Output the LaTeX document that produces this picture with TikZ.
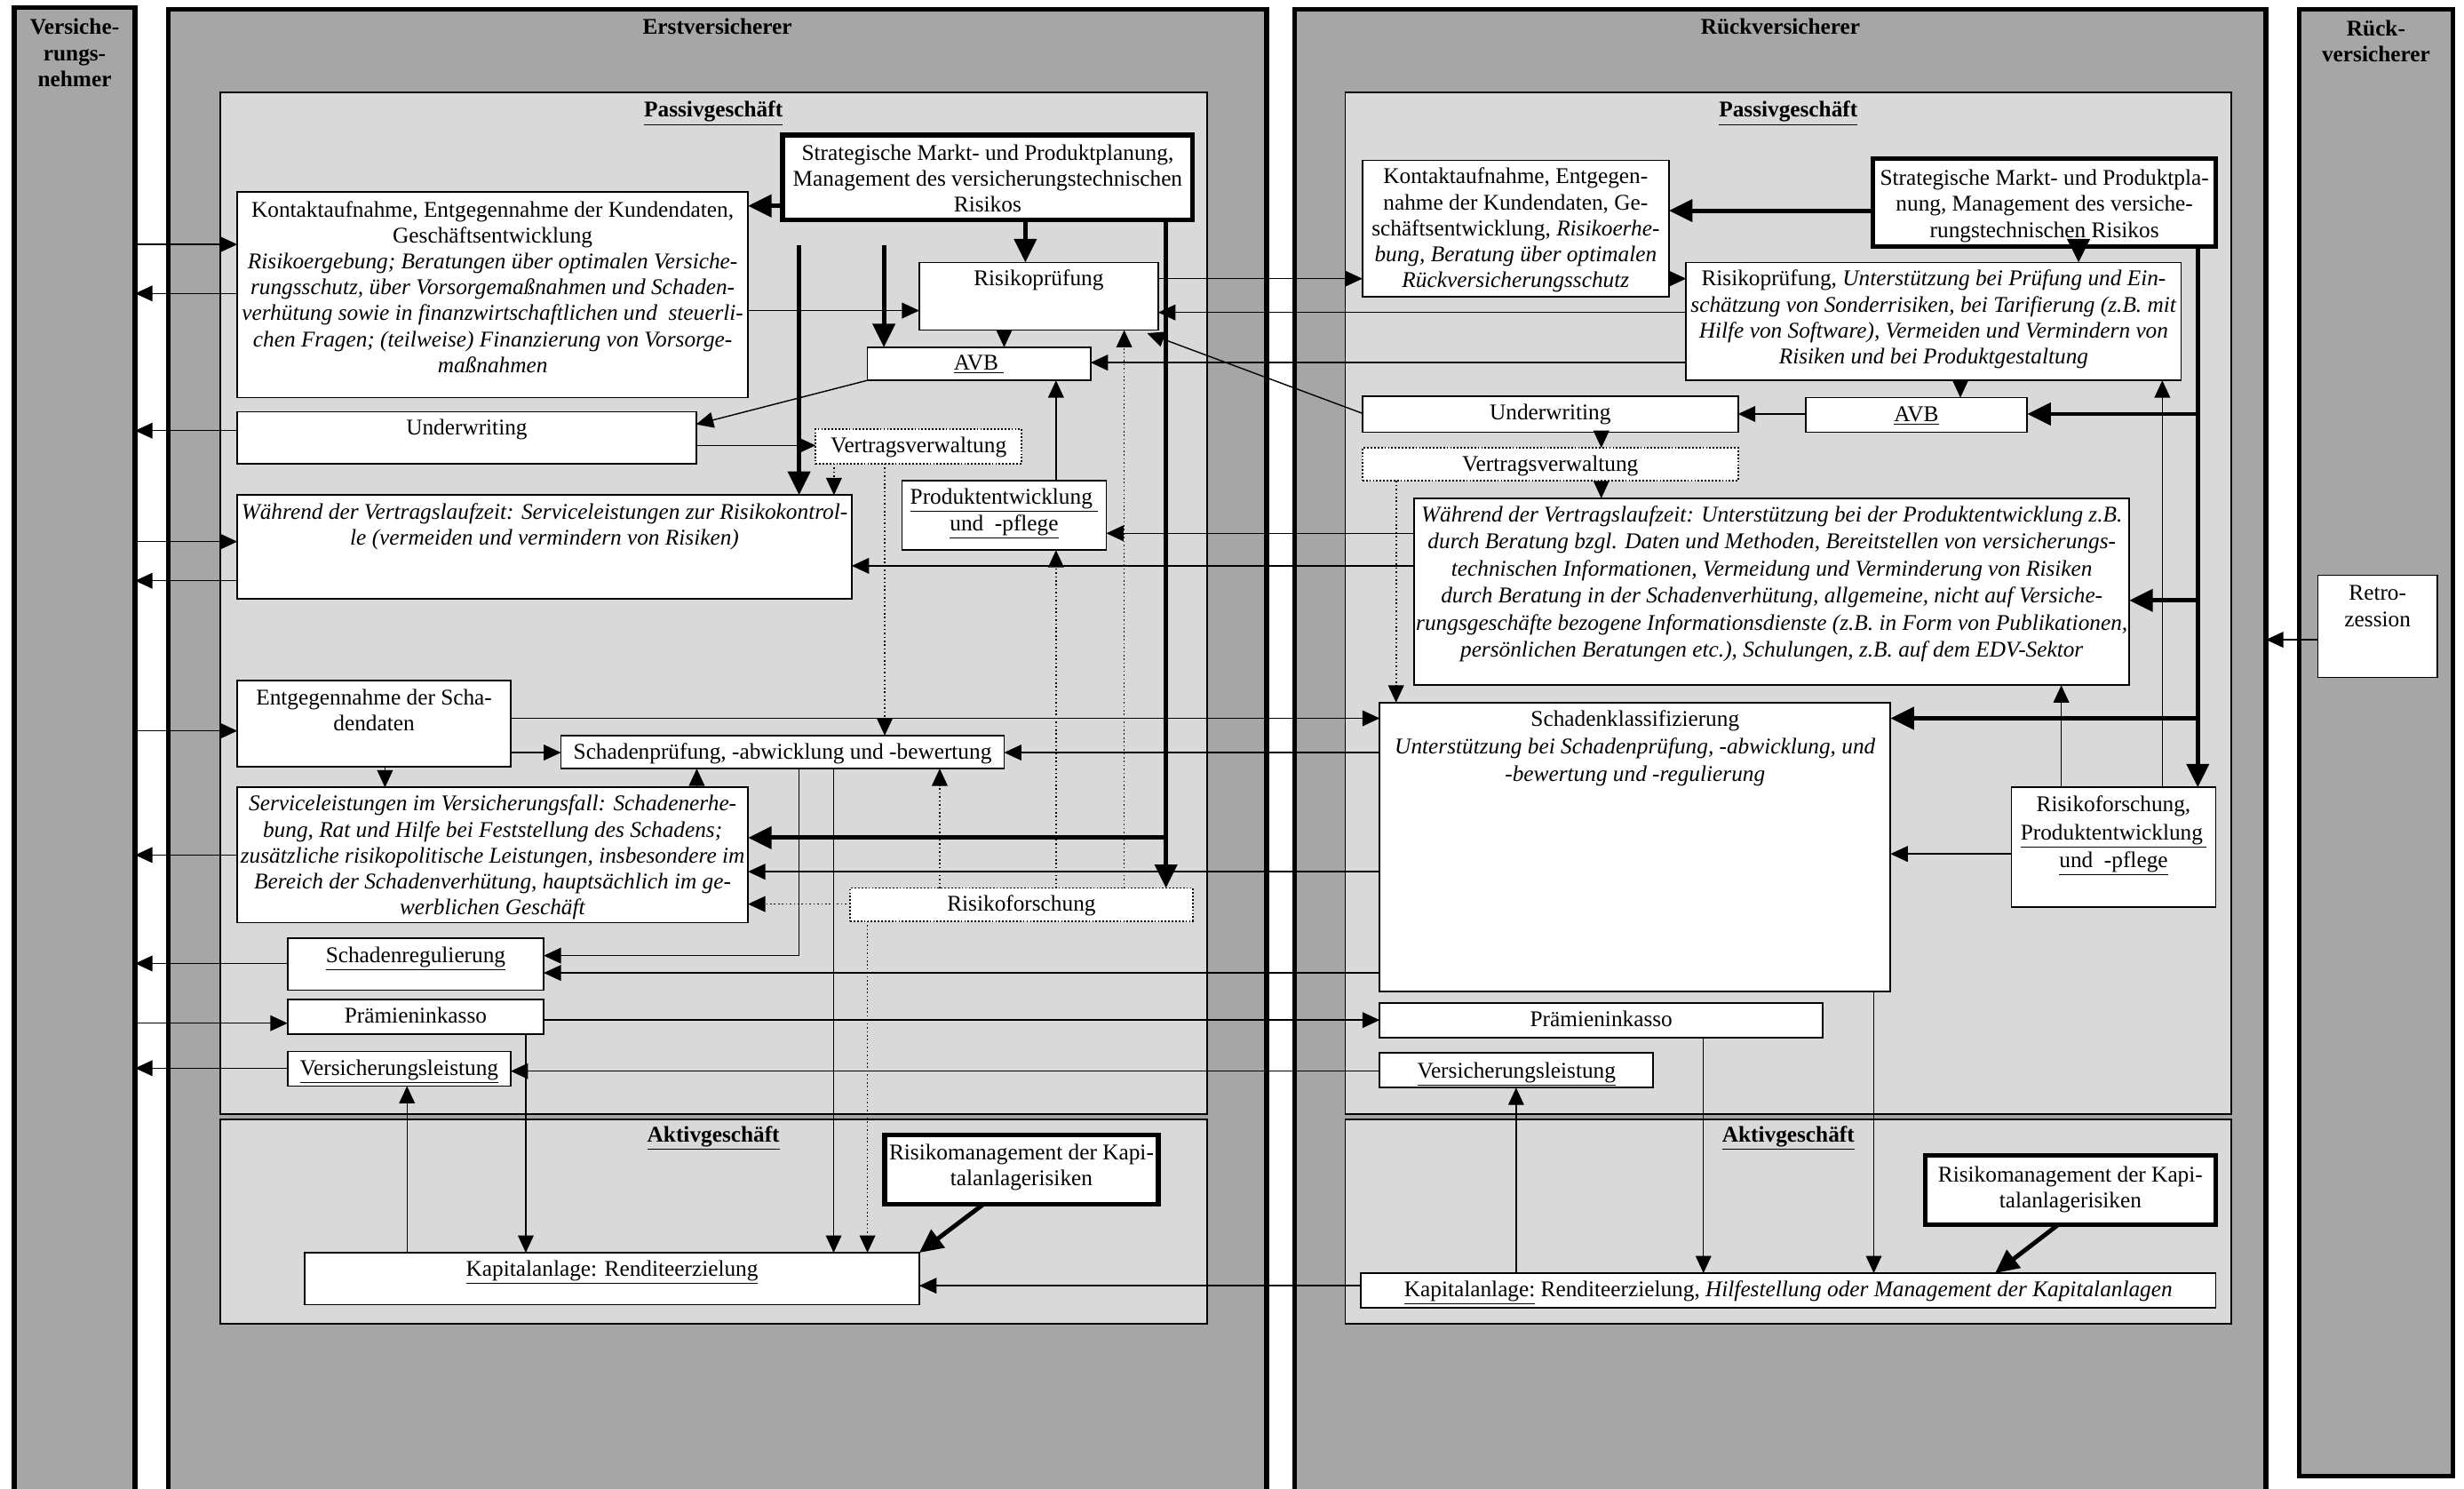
\documentclass[tikz,border=0pt]{standalone}
\usepackage{fontspec}
\setmainfont{Liberation Serif}
\usetikzlibrary{arrows.meta,calc}
\definecolor{outergray}{gray}{0.651}
\definecolor{panelgray}{gray}{0.851}
\newcommand\firstline{\rule{0pt}{13pt}}
% rectangle node spanning the corners (x1,y1) and (x2,y2); y grows downwards
\newcommand\rectnode[6][]{%
  \node[#1,minimum width={#5-#3},minimum height={#6-#4}] (#2) at ({(#3+#5)/2},{(#4+#6)/2}) {};}
% text block whose first line is centred on (x,y)
\newcommand\txt[4][]{\node[tx,#1] at (#2,#3) {\firstline#4};}
\tikzset{
  cont/.style={draw, line width=3pt, fill=outergray, inner sep=0pt, outer sep=0pt},
  panel/.style={draw, line width=1pt, fill=panelgray, inner sep=0pt, outer sep=0pt},
  bx/.style={draw, fill=white, line width=1pt, inner sep=0pt, outer sep=0pt},
  heavybx/.style={line width=3pt},
  dotbx/.style={dash pattern=on 1pt off 1.2pt, line width=1pt},
  tx/.style={inner sep=0pt, align=center, anchor=north, yshift=8.2pt,
    font=\fontsize{14.3}{16.5}\selectfont},
  hd/.style={font=\fontsize{14.3}{16.5}\selectfont\bfseries},
  ar/.style={line width=0.8pt, -{Triangle[length=11pt,width=10pt]}},
  dar/.style={line width=0.9pt, dash pattern=on 0.9pt off 1.6pt, -{Triangle[length=11pt,width=10pt]}},
  har/.style={line width=2.8pt, -{Triangle[length=15pt,width=14pt]}},
  hln/.style={line width=2.8pt},
}
\begin{document}
\begin{tikzpicture}[x=1pt,y=-1pt]
\useasboundingbox (0,0) rectangle (1568,947);

% ---------- columns and business areas ----------
\rectnode[cont]{VN}{9}{5}{86}{965}
\rectnode[cont]{ERST}{107}{6}{806}{965}
\rectnode[cont]{RUECK}{824}{6}{1442}{965}
\rectnode[cont]{RV}{1463}{6}{1561}{939}
\rectnode[panel]{EP}{140}{59}{768}{709}
\rectnode[panel]{EA}{140}{712}{768}{842}
\rectnode[panel]{RP}{856}{59}{1420}{709}
\rectnode[panel]{RA}{856}{712}{1420}{842}

\txt[hd]{47.5}{17}{Versiche-\\rungs-\\nehmer}
\txt[hd]{456.5}{17}{Erstversicherer}
\txt[hd]{1133}{17}{Rückversicherer}
\txt[hd]{1512}{18}{Rück-\\versicherer}
\txt[hd]{454}{69.5}{\underline{Passivgeschäft}}
\txt[hd]{1138}{69.5}{\underline{Passivgeschäft}}
\txt[hd]{454}{721.5}{\underline{Aktivgeschäft}}
\txt[hd]{1138}{721.5}{\underline{Aktivgeschäft}}

% ---------- Erstversicherer ----------
\rectnode[bx,heavybx]{StratE}{498}{86}{759}{140}
\rectnode[bx]{KontaktE}{151}{122}{476}{253}
\rectnode[bx]{RisikoE}{585}{167}{737}{210}
\rectnode[bx]{AVBE}{552}{221}{694}{242}
\rectnode[bx]{UnderwE}{151}{262}{443}{295}
\rectnode[bx,dotbx]{VertrE}{519}{273}{650}{295}
\rectnode[bx]{ProdE}{574}{306}{704}{350}
\rectnode[bx]{WaehrE}{151}{315}{542}{381}
\rectnode[bx]{EntgE}{151}{433}{325}{488}
\rectnode[bx]{SprE}{357}{468}{639}{489}
\rectnode[bx]{ServE}{151}{501}{476}{587}
\rectnode[bx,dotbx]{RforE}{541}{565}{759}{586}
\rectnode[bx]{SregE}{183}{597}{346}{630}
\rectnode[bx]{PraemE}{183}{636}{346}{658}
\rectnode[bx]{VleistE}{183}{669}{325}{691}
\rectnode[bx,heavybx]{RmanE}{563}{722}{737}{766}
\rectnode[bx]{KapE}{194}{797}{585}{830}

\txt{628.5}{97}{Strategische Markt- und Produktplanung,\\Management des versicherungstechnischen\\Risikos}
\txt{313.5}{133}{Kontaktaufnahme, Entgegennahme der Kundendaten,\\Geschäftsentwicklung\\\textit{Risikoergebung; Beratungen über optimalen Versiche-}\\\textit{rungsschutz, über Vorsorgemaßnahmen und Schaden-}\\\textit{verhütung sowie in finanzwirtschaftlichen und\ \ steuerli-}\\\textit{chen Fragen; (teilweise) Finanzierung von Vorsorge-}\\\textit{maßnahmen}}
\txt{661}{177}{Risikoprüfung}
\txt{623}{230.5}{\underline{AVB\ }}
\txt{297}{271.5}{Underwriting}
\txt{584.5}{283}{Vertragsverwaltung}
\txt{639}{316}{\underline{Produktentwicklung\ }\\\underline{und\ \ -pflege}}
\txt{346.5}{325.5}{\textit{Während der Vertragslaufzeit: Serviceleistungen zur Risikokontrol-}\\\textit{le (vermeiden und vermindern von Risiken)}}
\txt{238}{443.5}{Entgegennahme der Scha-\\dendaten}
\txt{498}{478}{Schadenprüfung, -abwicklung und -bewertung}
\txt{313.5}{511}{\textit{Serviceleistungen im Versicherungsfall: Schadenerhe-}\\\textit{bung, Rat und Hilfe bei Feststellung des Schadens;}\\\textit{zusätzliche risikopolitische Leistungen, insbesondere im}\\\textit{Bereich der Schadenverhütung, hauptsächlich im ge-}\\\textit{werblichen Geschäft}}
\txt{650}{574.5}{Risikoforschung}
\txt{264.5}{607.5}{\underline{Schadenregulierung}}
\txt{264.5}{646}{Prämieninkasso}
\txt{254}{679}{\underline{Versicherungsleistung}}
\txt{650}{733}{Risikomanagement der Kapi-\\talanlagerisiken}
\txt{389.5}{807}{\underline{Kapitalanlage: Renditeerzielung}}

% ---------- Rückversicherer ----------
\rectnode[bx]{KontaktR}{867}{102}{1062}{189}
\rectnode[bx,heavybx]{StratR}{1192}{101}{1410}{157}
\rectnode[bx]{RprR}{1073}{167}{1388}{242}
\rectnode[bx]{AVBR}{1149}{253}{1290}{275}
\rectnode[bx]{UnderwR}{867}{252}{1106}{275}
\rectnode[bx,dotbx]{VertrR}{867}{285}{1106}{306}
\rectnode[bx]{WaehrR}{900}{317}{1355}{436}
\rectnode[bx]{SklR}{878}{447}{1203}{631}
\rectnode[bx]{RforR}{1280}{501}{1410}{577}
\rectnode[bx]{PraemR}{878}{638}{1160}{660}
\rectnode[bx]{VleistR}{878}{670}{1052}{692}
\rectnode[bx,heavybx]{RmanR}{1225}{735}{1410}{779}
\rectnode[bx]{KapR}{866}{810}{1410}{832}
\rectnode[bx]{Retro}{1475}{366}{1551}{431}

\txt{964.5}{112}{Kontaktaufnahme, Entgegen-\\nahme der Kundendaten, Ge-\\schäftsentwicklung, \textit{Risikoerhe-}\\\textit{bung, Beratung über optimalen}\\\textit{Rückversicherungsschutz}}
\txt{1301}{113}{Strategische Markt- und Produktpla-\\nung, Management des versiche-\\rungstechnischen Risikos}
\txt{1230.5}{177}{Risikoprüfung, \textit{Unterstützung bei Prüfung und Ein-}\\\textit{schätzung von Sonderrisiken, bei Tarifierung (z.B. mit}\\\textit{Hilfe von Software), Vermeiden und Vermindern von}\\\textit{Risiken und bei Produktgestaltung}}
\txt{1219.5}{263}{\underline{AVB}}
\txt{986.5}{262}{Underwriting}
\txt{986.5}{294.7}{Vertragsverwaltung}
\txt[font=\fontsize{14.3}{17.2}\selectfont]{1127.5}{327}{\textit{Während der Vertragslaufzeit: Unterstützung bei der Produktentwicklung z.B.}\\\textit{durch Beratung bzgl. Daten und Methoden, Bereitstellen von versicherungs-}\\\textit{technischen Informationen, Vermeidung und Verminderung von Risiken}\\\textit{durch Beratung in der Schadenverhütung, allgemeine, nicht auf Versiche-}\\\textit{rungsgeschäfte bezogene Informationsdienste (z.B. in Form von Publikationen,}\\\textit{persönlichen Beratungen etc.), Schulungen, z.B. auf dem EDV-Sektor}}
\txt[font=\fontsize{14.3}{17.7}\selectfont]{1040.5}{457}{Schadenklassifizierung\\\textit{Unterstützung bei Schadenprüfung, -abwicklung, und}\\\textit{-bewertung und -regulierung}}
\txt[font=\fontsize{14.3}{17.7}\selectfont]{1345}{511.6}{Risikoforschung,\\\underline{Produktentwicklung\,}\\\underline{und\ \ -pflege}}
\txt{1019}{648}{Prämieninkasso}
\txt{965}{681}{\underline{Versicherungsleistung}}
\txt{1317.5}{747}{Risikomanagement der Kapi-\\talanlagerisiken}
\txt{1138}{820}{\underline{Kapitalanlage:} Renditeerzielung, \textit{Hilfestellung oder Management der Kapitalanlagen}}
\txt{1513}{377}{Retro-\\zession}

% ---------- Versicherungsnehmer <-> Erstversicherer ----------
\draw[ar] (VN.east |- 0,155.5) -- (KontaktE.west |- 0,155.5);
\draw[ar] (KontaktE.west |- 0,186.7) -- (VN.east |- 0,186.7);
\draw[ar] (UnderwE.west |- 0,274) -- (VN.east |- 0,274);
\draw[ar] (VN.east |- 0,344.6) -- (WaehrE.west |- 0,344.6);
\draw[ar] (WaehrE.west |- 0,369.5) -- (VN.east |- 0,369.5);
\draw[ar] (VN.east |- 0,465) -- (EntgE.west |- 0,465);
\draw[ar] (ServE.west |- 0,544) -- (VN.east |- 0,544);
\draw[ar] (SregE.west |- 0,613) -- (VN.east |- 0,613);
\draw[ar] (VN.east |- 0,651) -- (PraemE.west |- 0,651);
\draw[ar] (VleistE.west |- 0,679.6) -- (VN.east |- 0,679.6);

% ---------- inside the Erstversicherer ----------
\draw[har] (StratE.west |- 0,131) -- (KontaktE.east |- 0,131);
\draw[har] (StratE.south -| 652.5,0) -- (RisikoE.north -| 652.5,0);
\coordinate (tA) at (508.5,156);
\coordinate (tB) at (562.5,156);
\draw[har] (tA) -- (WaehrE.north -| tA);
\draw[har] (tB) -- (AVBE.north -| tB);
\draw[ar] (KontaktE.east |- 0,197.6) -- (RisikoE.west |- 0,197.6);
\draw[ar] (RisikoE.south -| 639,0) -- (AVBE.north -| 639,0);
\draw[ar] (AVBE.south west) -- (UnderwE.east |- 0,270);
\draw[ar] (UnderwE.east |- 0,283.4) -- (VertrE.west |- 0,283.4);
\draw[dar] (VertrE.south -| 530.7,0) -- (WaehrE.north -| 530.7,0);
\draw[dar] (VertrE.south -| 563,0) -- (SprE.north -| 563,0);
\draw[ar] (ProdE.north -| 672,0) -- (AVBE.south -| 672,0);
\draw[dar] (RforE.north -| 672,0) -- (ProdE.south -| 672,0);
\draw[dar] (RforE.north -| 715.4,0) -- (RisikoE.south -| 715.4,0);
\draw[dar] (RforE.north -| 598,0) -- (SprE.south -| 598,0);
\draw[dar] (RforE.west |- 0,575.2) -- (ServE.east |- 0,575.2);
\draw[dar] (RforE.south -| 552,0) -- (KapE.north -| 552,0);
\coordinate (jE) at (742,533);
\draw[har] (StratE.south -| jE) -- (RforE.north -| jE);
\draw[har] (jE) -- (ServE.east |- jE);
\draw[ar] (EntgE.east |- 0,478.8) -- (SprE.west |- 0,478.8);
\draw[ar] (EntgE.south -| 245,0) -- (ServE.north -| 245,0);
\draw[ar] (ServE.north -| 443.4,0) -- (SprE.south -| 443.4,0);
\draw[ar] (SprE.south -| 508.5,0) |- (SregE.east |- 0,608);
\draw[ar] (SprE.south -| 530.5,0) -- (KapE.north -| 530.5,0);
\draw[ar] (KapE.north -| 259,0) -- (VleistE.south -| 259,0);
\draw[ar] (PraemE.south -| 334.6,0) -- (KapE.north -| 334.6,0);
\draw[har] (RmanE.south -| 626,0) -- (KapE.north east);

% ---------- between Erst- and Rückversicherer ----------
\draw[ar] (RisikoE.east |- 0,177.3) -- (KontaktR.west |- 0,177.3);
\draw[ar] (RprR.west |- 0,198.8) -- (RisikoE.east |- 0,198.8);
\draw[ar] (RprR.west |- 0,230.7) -- (AVBE.east |- 0,230.7);
\draw[ar] (UnderwR.west |- 0,263) -- ($(RisikoE.south east)+(-7,2)$);
\draw[ar] (WaehrR.west |- 0,339.3) -- (ProdE.east |- 0,339.3);
\draw[ar] (WaehrR.west |- 0,360) -- (WaehrE.east |- 0,360);
\draw[ar] (EntgE.east |- 0,457) -- (SklR.west |- 0,457);
\draw[ar] (SklR.west |- 0,478.8) -- (SprE.east |- 0,478.8);
\draw[ar] (SklR.west |- 0,554.6) -- (ServE.east |- 0,554.6);
\draw[ar] (SklR.west |- 0,619) -- (SregE.east |- 0,619);
\draw[ar] (PraemE.east |- 0,649) -- (PraemR.west |- 0,649);
\draw[ar] (VleistR.west |- 0,681.5) -- (VleistE.east |- 0,681.5);
\draw[ar] (KapR.west |- 0,818) -- (KapE.east |- 0,818);

% ---------- inside the Rückversicherer ----------
\draw[har] (StratR.west |- 0,134) -- (KontaktR.east |- 0,134);
\draw[har] (StratR.south -| 1322.7,0) -- (RprR.north -| 1322.7,0);
\draw[ar] (KontaktR.east |- 0,177.3) -- (RprR.west |- 0,177.3);
\draw[ar] (RprR.south -| 1247.5,0) -- (AVBR.north -| 1247.5,0);
\draw[ar] (AVBR.west |- 0,263.4) -- (UnderwR.east |- 0,263.4);
\draw[ar] (UnderwR.south -| 1019,0) -- (VertrR.north -| 1019,0);
\draw[ar] (VertrR.south -| 1019,0) -- (WaehrR.north -| 1019,0);
\draw[dar] (VertrR.south -| 888.4,0) -- (SklR.north -| 888.4,0);
\coordinate (jR1) at (1398.6,263.4);
\coordinate (jR2) at (1398.6,382);
\coordinate (jR3) at (1398.6,457);
\draw[har] (StratR.south -| jR1) -- (RforR.north -| jR1);
\draw[har] (jR1) -- (AVBR.east |- jR1);
\draw[har] (jR2) -- (WaehrR.east |- jR2);
\draw[har] (jR3) -- (SklR.east |- jR3);
\draw[ar] (RforR.north -| 1376,0) -- (RprR.south -| 1376,0);
\draw[ar] (RforR.north -| 1311.7,0) -- (WaehrR.south -| 1311.7,0);
\draw[ar] (RforR.west |- 0,543.3) -- (SklR.east |- 0,543.3);
\draw[ar] (PraemR.south -| 1084,0) -- (KapR.north -| 1084,0);
\draw[ar] (SklR.south -| 1192.4,0) -- (KapR.north -| 1192.4,0);
\draw[ar] (KapR.north -| 964.8,0) -- (VleistR.south -| 964.8,0);
\draw[har] (RmanR.south -| 1310,0) -- (KapR.north -| 1269.6,0);

% ---------- Retrozession ----------
\draw[ar] (Retro.west |- 0,407) -- (RUECK.east |- 0,407);
\end{tikzpicture}
\end{document}
